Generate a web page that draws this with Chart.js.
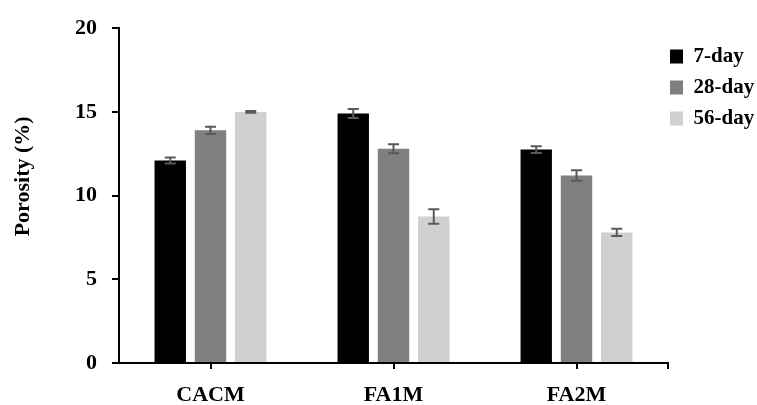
<!DOCTYPE html>
<html>
<head>
  <meta charset="UTF-8">
  <title>Porosity</title>
  <script src="https://cdn.jsdelivr.net/npm/chart.js"></script>
  <style>
    html, body { margin: 0; padding: 0; background: #fff; }
    #chart-container { width: 757px; height: 405px; }
  </style>
</head>
<body>
  <div id="chart-container">
    <canvas id="myChart"></canvas>
  </div>
  <script>
    // categories and series
    const mixes = ["CACM", "FA1M", "FA2M"];
    const seriesNames = ["7-day", "28-day", "56-day"];
    const day7 = [12.1, 14.9, 12.75];
    const day28 = [13.9, 12.8, 11.2];
    const day56 = [15.0, 8.75, 7.8];
    // error bar half lengths
    const err7 = [0.18, 0.27, 0.2];
    const err28 = [0.22, 0.27, 0.32];
    const err56 = [0.05, 0.43, 0.22];
    const yTicks = [0, 5, 10, 15, 20];

    const barColors = ['#000000', '#7f7f7f', '#d0d0d0'];
    const serif = "'Liberation Serif', 'Times New Roman', serif";

    // error bars drawn with the chart's own y scale
    const errorBars = {
      id: 'errorBars',
      afterDatasetsDraw(chart) {
        const ctx = chart.ctx;
        const y = chart.scales.y;
        ctx.save();
        ctx.strokeStyle = '#595959';
        ctx.lineWidth = 2;
        chart.data.datasets.forEach((ds, i) => {
          const meta = chart.getDatasetMeta(i);
          meta.data.forEach((bar, j) => {
            const v = ds.data[j], e = ds.errors[j];
            const top = y.getPixelForValue(v + e);
            const bot = y.getPixelForValue(v - e);
            const x = bar.x, w = 5.5;
            ctx.beginPath();
            ctx.moveTo(x, top); ctx.lineTo(x, bot);
            ctx.moveTo(x - w, top); ctx.lineTo(x + w, top);
            ctx.moveTo(x - w, bot); ctx.lineTo(x + w, bot);
            ctx.stroke();
          });
        });
        ctx.restore();
      }
    };

    // closing tick at the right end of the category axis, and legend placement
    const axisEnd = {
      id: 'axisEnd',
      afterLayout(chart) {
        chart.legend.left = chart.chartArea.right - 8;
        chart.legend.top = 36;
      },
      afterDraw(chart) {
        const {ctx, chartArea} = chart;
        ctx.save();
        ctx.strokeStyle = '#000';
        ctx.lineWidth = 2;
        ctx.beginPath();
        ctx.moveTo(chartArea.right, chartArea.bottom - 1);
        ctx.lineTo(chartArea.right, chartArea.bottom + 6);
        ctx.stroke();
        ctx.restore();
      }
    };

    const data = {
      labels: mixes,
      datasets: [
        { label: seriesNames[0], data: day7, errors: err7, backgroundColor: barColors[0] },
        { label: seriesNames[1], data: day28, errors: err28, backgroundColor: barColors[1] },
        { label: seriesNames[2], data: day56, errors: err56, backgroundColor: barColors[2] }
      ]
    };

    const config = {
      type: 'bar',
      data: data,
      options: {
        responsive: true,
        maintainAspectRatio: false,
        animation: false,
        layout: { padding: { top: 24, left: 0, right: 0, bottom: 0 } },
        datasets: {
          bar: { categoryPercentage: 0.66, barPercentage: 0.78, borderWidth: 0 }
        },
        scales: {
          x: {
            grid: { offset: false, drawOnChartArea: false, drawTicks: true, tickLength: 6, color: '#000', lineWidth: 2 },
            border: { color: '#000', width: 2 },
            ticks: { color: '#000', padding: 13, font: { family: serif, size: 22, weight: 'bold' } },
            afterFit(scale) { scale.height = 42; }
          },
          y: {
            min: 0,
            max: 20,
            afterBuildTicks(scale) { scale.ticks = yTicks.map(v => ({ value: v })); },
            grid: { drawOnChartArea: false, drawTicks: true, tickLength: 7, color: '#000', lineWidth: 2 },
            border: { color: '#000', width: 2 },
            ticks: { color: '#000', padding: 15, font: { family: serif, size: 22, weight: 'bold' } },
            title: {
              display: true,
              text: '\u00a0\u00a0\u00a0\u00a0\u00a0\u00a0\u00a0Porosity (%)',
              color: '#000',
              padding: { top: 10, bottom: 0 },
              font: { family: serif, size: 22, weight: 'bold' }
            },
            afterFit(scale) { scale.width = 119; }
          }
        },
        plugins: {
          legend: {
            position: 'right',
            align: 'start',
            maxWidth: 89,
            labels: {
              boxWidth: 13,
              boxHeight: 14,
              padding: 10,
              color: '#000',
              font: { family: serif, size: 21, weight: 'bold' }
            }
          },
          tooltip: { enabled: false }
        }
      },
      plugins: [errorBars, axisEnd]
    };

    new Chart(document.getElementById('myChart'), config);
  </script>
</body>
</html>
